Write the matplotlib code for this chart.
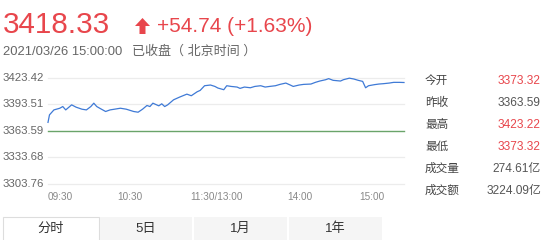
import matplotlib
matplotlib.use("Agg")
import matplotlib.pyplot as plt
import matplotlib.transforms as mtransforms
from matplotlib.patches import Rectangle, Polygon

# ---------------- data ----------------
minutes = [0, 1, 4, 8, 10, 12, 16, 19, 23, 26, 29, 31, 33, 35, 39, 42, 45, 49, 53, 58,
           61, 64, 67, 69, 71, 75, 77, 79, 81, 85, 89, 94, 97, 101, 103, 106, 110, 113,
           115, 119, 121, 124, 128, 130, 133, 137, 140, 144, 147, 150, 154, 157, 161,
           164, 166, 170, 173, 178, 181, 184, 188, 190, 193, 198, 200, 204, 207, 210,
           213, 215, 217, 221, 224, 227, 231, 234, 238, 241]
prices = [3373.32, 3381.8, 3387.4, 3389.3, 3391.2, 3387.4, 3393.1, 3390.5, 3388.2, 3387.4,
          3391.2, 3395.0, 3391.2, 3389.3, 3385.6, 3387.4, 3388.2, 3389.3, 3388.2, 3385.6,
          3384.8, 3388.2, 3392.4, 3391.2, 3395.0, 3392.0, 3394.3, 3391.2, 3393.1, 3398.8,
          3401.8, 3405.2, 3403.4, 3407.9, 3409.4, 3414.7, 3415.5, 3413.9, 3412.1, 3410.2,
          3414.7, 3413.9, 3413.2, 3411.7, 3413.2, 3412.4, 3413.9, 3414.7, 3413.2, 3413.9,
          3414.7, 3416.2, 3417.7, 3415.5, 3413.9, 3415.5, 3416.2, 3416.6, 3418.5, 3420.0,
          3421.5, 3422.7, 3420.8, 3420.0, 3421.5, 3423.22, 3422.3, 3420.8, 3419.6, 3412.4,
          3414.7, 3415.9, 3416.6, 3417.0, 3417.7, 3418.5, 3418.5, 3418.33]
prev_close = 3363.59
y_ticks = [3423.42, 3393.51, 3363.59, 3333.68, 3303.76]
x_tick_pos = [8, 55.5, 114, 170.5, 219.5]
x_tick_labels = ["09:30", "10:30", "11:30/13:00", "14:00", "15:00"]

last_price = "3418.33"
change_text = "+54.74 (+1.63%)"
time_text = "2021/03/26 15:00:00"
status_text = "已收盘（ 北京时间 ）"

stat_names = ["今开", "昨收", "最高", "最低", "成交量", "成交额"]
stat_values = ["3373.32", "3363.59", "3423.22", "3373.32", "274.61亿", "3224.09亿"]
stat_red = [True, False, True, True, False, False]

tabs = ["分时", "5日", "1月", "1年"]

# ---------------- styling ----------------
W, H = 548, 240
RED = "#e8464c"
GRAY = "#666666"
FONT = ["Liberation Sans", "Noto Sans CJK SC", "DejaVu Sans"]
plt.rcParams['font.family'] = FONT

fig = plt.figure(figsize=(W / 100, H / 100), dpi=100)
fig.patch.set_facecolor("white")


def fx(x):
    return x / W


def fy(y):
    return 1 - y / H


ax = fig.add_axes([fx(48), fy(184), (404 - 48) / W, (184 - 78) / H])
ax.set_xlim(0, 241)
ax.set_ylim(y_ticks[-1], y_ticks[0])
for s in ax.spines.values():
    s.set_visible(False)
ax.set_xticks([])
ax.set_yticks([])
ax.patch.set_alpha(0)

for v in y_ticks:
    if v != prev_close:
        ax.axhline(v, color="#ececec", lw=0.9, zorder=1, clip_on=False)
ax.axhline(prev_close, color="#6aa46a", lw=1.0, zorder=2, clip_on=False)
ax.plot(minutes, prices, color="#3f7ad6", lw=0.9, zorder=3, clip_on=False)

# y labels
tr_y = mtransforms.blended_transform_factory(fig.transFigure, ax.transData)
for v in y_ticks:
    ax.text(fx(3), v, f"{v:.2f}", transform=tr_y, ha="left", va="center",
            fontsize=8.2, color=GRAY)

# x labels
tr_x = mtransforms.blended_transform_factory(ax.transData, fig.transFigure)
for p, lab in zip(x_tick_pos, x_tick_labels):
    ax.text(p, fy(197), lab, transform=tr_x, ha="center", va="center",
            fontsize=7.2, color="#888888")

# header
fig.text(fx(3), fy(25), last_price, fontsize=21.3, color=RED, ha="left", va="center")
arrow = Polygon([[fx(135), fy(26)], [fx(142.5), fy(18)], [fx(150), fy(26)],
                 [fx(145.5), fy(26)], [fx(145.5), fy(34)], [fx(139.5), fy(34)],
                 [fx(139.5), fy(26)]], closed=True, transform=fig.transFigure,
                facecolor=RED, edgecolor="none")
fig.patches.append(arrow)
fig.text(fx(157), fy(26), change_text, fontsize=15, color=RED, ha="left", va="center")
fig.text(fx(3), fy(52), time_text, fontsize=9.4, color=GRAY, ha="left", va="center")
fig.text(fx(132), fy(52), status_text, fontsize=9.4, color=GRAY, ha="left", va="center")

# right stats panel
row_y = [80.7, 102.7, 125, 147.3, 169.3, 190.7]
for name, val, red, yy in zip(stat_names, stat_values, stat_red, row_y):
    fig.text(fx(425), fy(yy), name, fontsize=8.4, color="#444444", ha="left", va="center")
    fig.text(fx(541), fy(yy), val, fontsize=8.6, color=RED if red else "#555555",
             ha="right", va="center")

# bottom tabs
tab_edges = [3, 99, 193, 288, 383]
for i, t in enumerate(tabs):
    x0, x1 = tab_edges[i], tab_edges[i + 1]
    if i == 0:
        rect = Rectangle((fx(x0), fy(241)), (x1 - x0) / W, (241 - 216.5) / H,
                         transform=fig.transFigure, facecolor="white",
                         edgecolor="#dddddd", lw=0.8)
    else:
        rect = Rectangle((fx(x0 + 1), fy(241)), (x1 - x0 - 2) / W, (241 - 216.5) / H,
                         transform=fig.transFigure, facecolor="#f5f5f5",
                         edgecolor="none")
    fig.patches.append(rect)
    fig.text(fx((x0 + x1) / 2), fy(229), t, fontsize=9.5, color="#333333",
             ha="center", va="center")

fig.savefig("out.png", dpi=100, facecolor="white")
